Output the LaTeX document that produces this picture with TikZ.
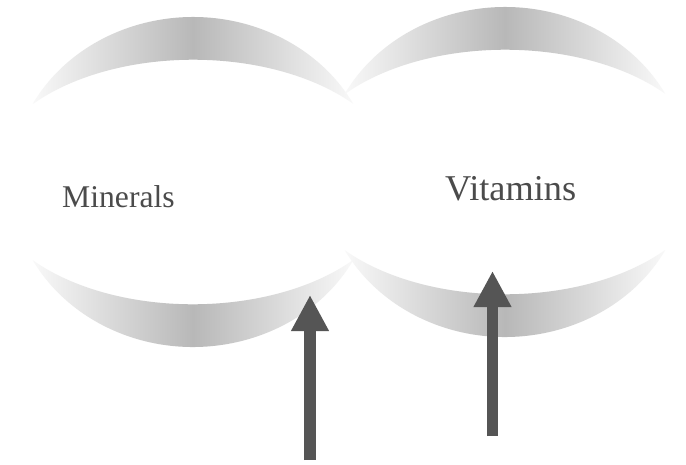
\documentclass[tikz,border=0pt]{standalone}
\usepackage{fontspec}
\setmainfont{Liberation Serif}
\usepackage{xcolor}
\usepackage{tikz}
\usetikzlibrary{arrows.meta,positioning,calc}
\definecolor{bandgrey}{RGB}{184,184,184}
\definecolor{arrowgrey}{RGB}{85,85,85}
\definecolor{textgrey}{RGB}{75,75,75}

\begin{document}
\begin{tikzpicture}[>=Latex,x=0.03cm,y=-0.03cm]
  \tikzstyle{word}=[inner sep=0pt,text=textgrey,anchor=base west]
  \tikzstyle{band}=[left color=gray!5,right color=gray!5,middle color=bandgrey]
  \tikzstyle{push}=[-{Triangle[length=1.08cm,width=1.06cm]},line width=0.35cm,draw=arrowgrey]
  \useasboundingbox[fill=white] (0,0) rectangle (686,464);
  % the two rings, each a top and a bottom crescent
  \coordinate (minc) at (193,182);
  \coordinate (vitc) at (505,172);
  \foreach \c in {minc,vitc}{
    \shade[band] ($(\c)+(208.3:182 and 165)$) arc[start angle=208.3,end angle=331.7,x radius=182,y radius=165]
      arc[start angle=320.3,end angle=219.7,x radius=208,y radius=122] -- cycle;
    \shade[band] ($(\c)+(28.3:182 and 165)$) arc[start angle=28.3,end angle=151.7,x radius=182,y radius=165]
      arc[start angle=140.3,end angle=39.7,x radius=208,y radius=122] -- cycle;
  }
  \node[word,font=\fontsize{27}{30}\selectfont] (min) at (62,207) {Minerals};
  \node[word,font=\fontsize{31}{34}\selectfont] (vit) at (445,200) {Vitamins};
  % arrows
  \coordinate (minfoot) at (310,460);
  \coordinate (mintip) at (310,295);
  \coordinate (vitfoot) at (492.5,436);
  \coordinate (vittip) at (492.5,271);
  \draw[push] (minfoot) -- (mintip);
  \draw[push] (vitfoot) -- (vittip);
\end{tikzpicture}
\end{document}
